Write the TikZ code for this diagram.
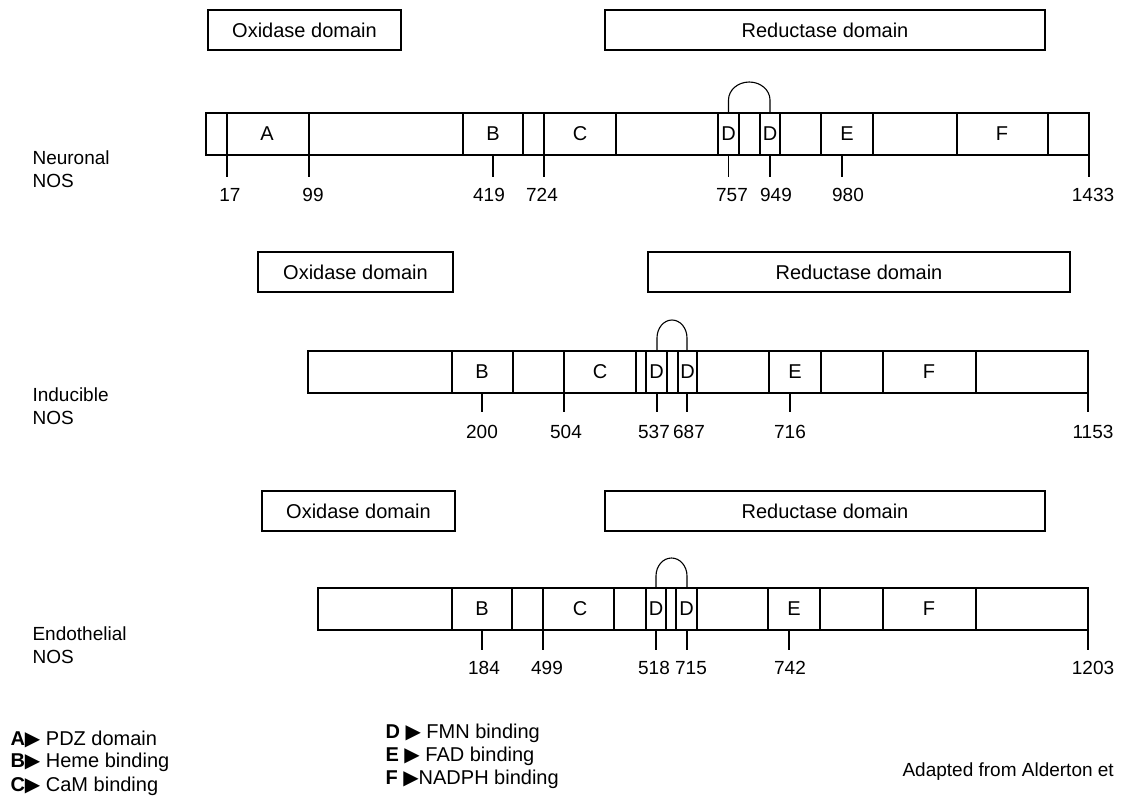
\documentclass[tikz,border=0pt]{standalone}
\usepackage{fontspec}
\setmainfont{Liberation Sans}
\newfontfamily\symfont{DejaVu Sans}
\begin{document}
\begin{tikzpicture}[x=1pt,y=-1pt,line width=1.1pt,
  dombox/.style={draw,rectangle,inner sep=0pt,outer sep=0pt,minimum height=40pt,anchor=north west,font=\fontsize{20}{22}\selectfont},
  barbox/.style={draw,rectangle,inner sep=0pt,outer sep=0pt,minimum height=42pt,anchor=north west},
  seglab/.style={font=\fontsize{20}{22}\selectfont,inner sep=0pt},
  num/.style={font=\fontsize{19}{21}\selectfont,inner sep=1pt},
  isoform/.style={font=\fontsize{19}{23}\selectfont,align=left,anchor=west,inner sep=0pt},
  legend/.style={font=\fontsize{20}{22}\selectfont,anchor=west,inner sep=0pt},
]
\useasboundingbox (0,0) rectangle (1122,807);

% ---------------- Neuronal NOS ----------------
\node[dombox,minimum width=193pt] (nox) at (208,10) {Oxidase domain};
\node[dombox,minimum width=440pt] (nred) at (605,10) {Reductase domain};
\node[barbox,minimum width=883pt] (nbar) at (206,113) {};
\foreach \x in {227,309,463,523,544,616,718,739,760,780,821,873,957,1048}
  \draw (\x,113) -- (\x,155);
\node[seglab] (nA) at (267,134) {A};
\node[seglab] (nB) at (493,134) {B};
\node[seglab] (nC) at (580,134) {C};
\node[seglab] (nD1) at (728.5,134) {D};
\node[seglab] (nD2) at (770,134) {D};
\node[seglab] (nE) at (847,134) {E};
\node[seglab] (nF) at (1002,134) {F};
\draw (728.5,113) -- (728.5,100) arc[start angle=180,end angle=360,x radius=20.75,y radius=18] -- (770,113);
\foreach \x/\lx/\t in {227/230/17,309/313/99,493/489/419,544/542/724,728.5/732/757,770/776/949,842/848/980,1089/1093/1433}{
  \draw (\x,155) -- (\x,177);
  \node[num] (n\t) at (\lx,195) {\t};
}
\node[isoform] (nlab) at (32,169) {Neuronal\\NOS};

% ---------------- Inducible NOS ----------------
\node[dombox,minimum width=195pt] (iox) at (258,252) {Oxidase domain};
\node[dombox,minimum width=422pt] (ired) at (648,252) {Reductase domain};
\node[barbox,minimum width=780pt] (ibar) at (308,351) {};
\foreach \x in {452,513,564,636,646,667,678,697,769,821,883,976}
  \draw (\x,351) -- (\x,392);
\node[seglab] (iB) at (482,372) {B};
\node[seglab] (iC) at (600,372) {C};
\node[seglab] (iD1) at (656.5,372) {D};
\node[seglab] (iD2) at (687.5,372) {D};
\node[seglab] (iE) at (795,372) {E};
\node[seglab] (iF) at (929,372) {F};
\draw (657,351) -- (657,338) arc[start angle=180,end angle=360,x radius=15,y radius=18] -- (687,351);
\foreach \x/\lx/\t in {482/482/200,564/566/504,657/654/537,687/689/687,790/790/716,1088/1093/1153}{
  \draw (\x,392) -- (\x,412);
  \node[num] (i\t) at (\lx,432) {\t};
}
\node[isoform] (ilab) at (32,406) {Inducible\\NOS};

% ---------------- Endothelial NOS ----------------
\node[dombox,minimum width=193pt] (eox) at (262,491) {Oxidase domain};
\node[dombox,minimum width=440pt] (ered) at (605,491) {Reductase domain};
\node[barbox,minimum width=770pt] (ebar) at (318,588) {};
\foreach \x in {452,512,543,614,646,666,676,697,768,820,883,976}
  \draw (\x,588) -- (\x,630);
\node[seglab] (eB) at (482,609) {B};
\node[seglab] (eC) at (580,609) {C};
\node[seglab] (eD1) at (656,609) {D};
\node[seglab] (eD2) at (686.5,609) {D};
\node[seglab] (eE) at (794,609) {E};
\node[seglab] (eF) at (929,609) {F};
\draw (656,588) -- (656,576) arc[start angle=180,end angle=360,x radius=15.5,y radius=18] -- (687,588);
\foreach \x/\lx/\t in {482/484/184,543/547/499,656/654/518,687/691/715,789/790/742,1088/1093/1203}{
  \draw (\x,630) -- (\x,650);
  \node[num] (e\t) at (\lx,668) {\t};
}
\node[isoform] (elab) at (32,645) {Endothelial\\NOS};

% ---------------- Legend ----------------
\node[legend] (legA) at (10,739) {\textbf{A}{\symfont▶} PDZ domain};
\node[legend] (legB) at (10,762) {\textbf{B}{\symfont▶} Heme binding};
\node[legend] (legC) at (10,786) {\textbf{C}{\symfont▶} CaM binding};
\node[legend] (legD) at (385,733) {\textbf{D} {\symfont▶} FMN binding};
\node[legend] (legE) at (385,756) {\textbf{E} {\symfont▶} FAD binding};
\node[legend] (legF) at (385,779) {\textbf{F} {\symfont▶}NADPH binding};
\node[anchor=west,inner sep=0pt,font=\fontsize{19}{21}\selectfont] (adapt) at (902,772) {Adapted from Alderton et};
\end{tikzpicture}
\end{document}
